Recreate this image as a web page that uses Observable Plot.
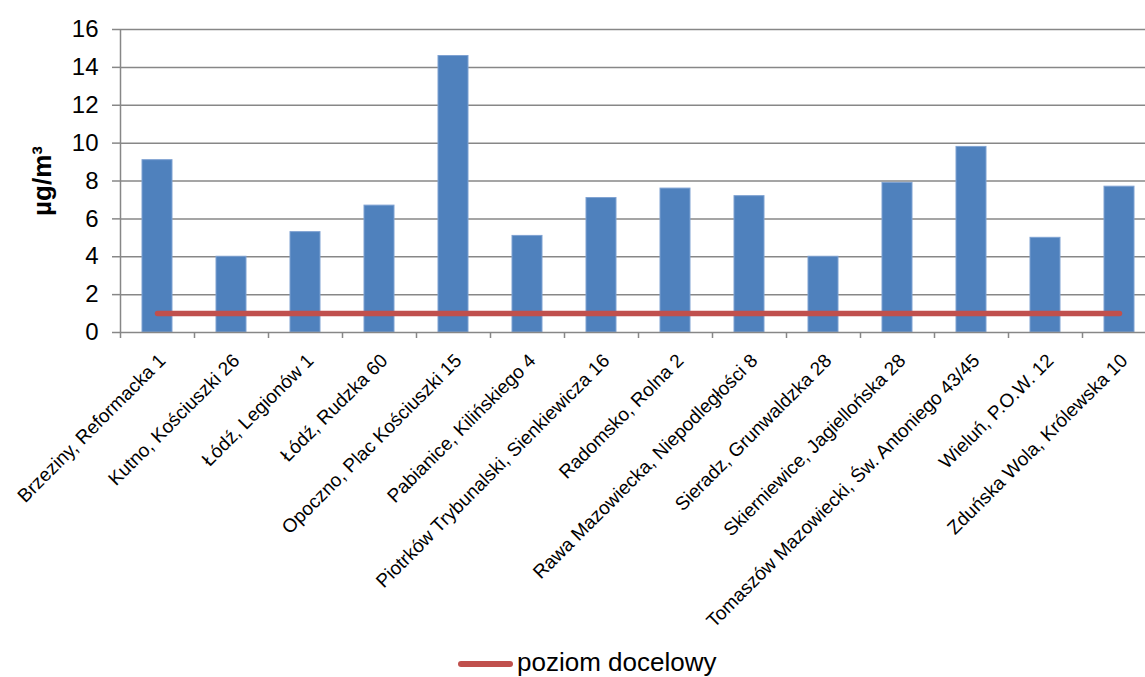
<!DOCTYPE html>
<html><head><meta charset="utf-8">
<script src="https://cdn.jsdelivr.net/npm/d3@7"></script>
<script src="https://cdn.jsdelivr.net/npm/@observablehq/plot@0.6"></script>
<style>
body{margin:0;background:#fff;font-family:"Liberation Sans",Arial,sans-serif;}
#chart{position:relative;width:1145px;height:677px;overflow:hidden;}
#legend{position:absolute;left:458px;top:648px;display:flex;align-items:center;font-size:26px;line-height:28px;color:#000;white-space:nowrap;}
#legend .sw{width:55px;height:6px;background:#C0504D;border-radius:3px;margin-right:4px;margin-top:4px;}
</style></head><body><div id="chart"></div>
<script>
const stations = [
  "Brzeziny, Reformacka 1",
  "Kutno, Kościuszki 26",
  "Łódź, Legionów 1",
  "Łódź, Rudzka 60",
  "Opoczno, Plac Kościuszki 15",
  "Pabianice, Kilińskiego 4",
  "Piotrków Trybunalski, Sienkiewicza 16",
  "Radomsko, Rolna 2",
  "Rawa Mazowiecka, Niepodległości 8",
  "Sieradz, Grunwaldzka 28",
  "Skierniewice, Jagiellońska 28",
  "Tomaszów Mazowiecki, Św. Antoniego 43/45",
  "Wieluń, P.O.W. 12",
  "Zduńska Wola, Królewska 10"
];
const values = [9.1, 4.0, 5.3, 6.7, 14.6, 5.1, 7.1, 7.6, 7.2, 4.0, 7.9, 9.8, 5.0, 7.7];
const targetLevel = 1;
const yTicks = [0, 2, 4, 6, 8, 10, 12, 14, 16];
const seriesName = "poziom docelowy";
const unitLabel = "µg/m³";

const data = stations.map((s, i) => ({station: s, value: values[i], target: targetLevel}));
const grid = "#878787";

const plot = Plot.plot({
  width: 1145, height: 660,
  marginTop: 29, marginBottom: 328, marginLeft: 120, marginRight: 0,
  style: {fontFamily: "'Liberation Sans', Arial, sans-serif", background: "white", color: "#000", overflow: "visible"},
  x: {type: "band", domain: stations, range: [120, 1156], paddingInner: 0.6, paddingOuter: 0.3, axis: null},
  y: {domain: [0, 16], axis: null},
  marks: [
    Plot.ruleY(yTicks.filter(d => d > 0), {stroke: grid, strokeWidth: 1.5}),
    Plot.barY(data, {x: "station", y: "value", fill: "#4F81BD", stroke: "#7FA2D2", strokeWidth: 1}),
    Plot.ruleY([0], {stroke: grid, strokeWidth: 1.5}),
    Plot.ruleX([stations[0]], {dx: -37, y1: 0, y2: 16, stroke: grid, strokeWidth: 1.5}),
    Plot.axisY({ticks: yTicks, tickSize: 8, tickPadding: 14, fontSize: 24, stroke: grid, strokeWidth: 1.5, fill: "#000", label: null}),
    Plot.axisX({tickSize: 6, tickFormat: () => "", dx: -37, stroke: grid, strokeWidth: 1.5, label: null}),
    Plot.text(data, {x: "station", text: "station", frameAnchor: "bottom", rotate: -45, textAnchor: "end", lineAnchor: "middle", dx: 5, dy: 25, fontSize: 19, fill: "#000"}),
    Plot.lineY(data, {x: "station", y: "target", stroke: "#C0504D", strokeWidth: 5.5, strokeLinecap: "round"}),
    Plot.text([unitLabel], {frameAnchor: "left", textAnchor: "middle", lineAnchor: "middle", rotate: -90, dx: -78, fontWeight: "bold", fontSize: 26, fill: "#000"})
  ]
});
const chart = document.getElementById("chart");
chart.appendChild(plot);
const legend = document.createElement("div");
legend.id = "legend";
legend.innerHTML = `<span class="sw"></span><span>${seriesName}</span>`;
chart.appendChild(legend);
</script>
</body></html>
